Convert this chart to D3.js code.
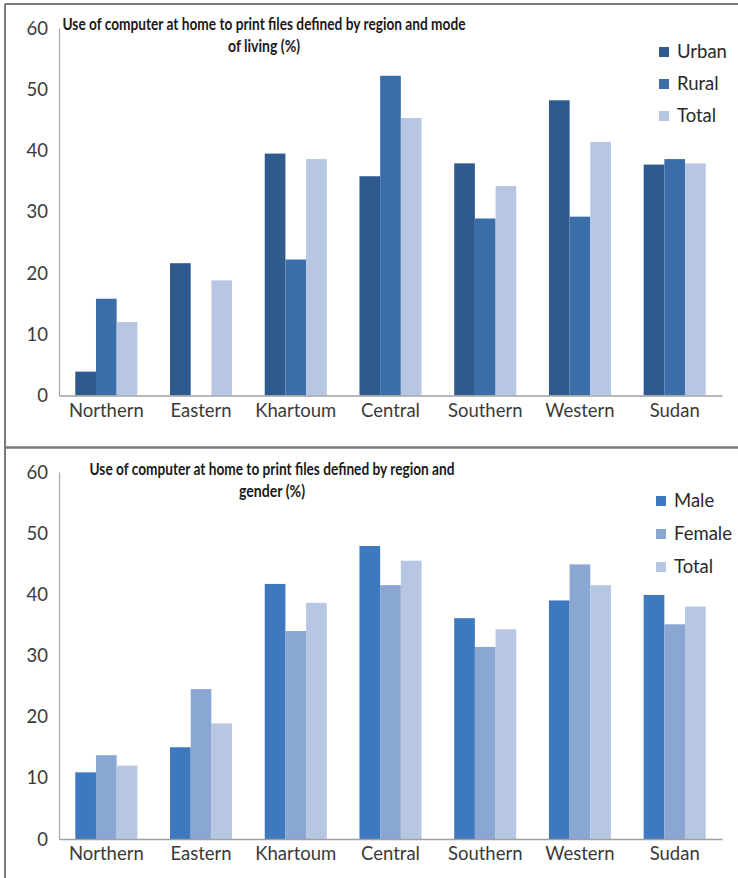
<!DOCTYPE html>
<html>
<head>
<meta charset="utf-8">
<script src="https://cdn.jsdelivr.net/npm/d3@7"></script>
<style>
  html, body { margin: 0; padding: 0; background: #fff; }
  svg { display: block; }
  .tick text { fill: #3a3a3a; }
</style>
</head>
<body>
<svg id="chart" width="738" height="878"></svg>
<script>
// Regions shown on both charts
const regions = ["Northern", "Eastern", "Khartoum", "Central", "Southern", "Western", "Sudan"];
const yTicks = [0, 10, 20, 30, 40, 50, 60];

// Chart 1: by mode of living (%)
const livingSeries = ["Urban", "Rural", "Total"];
const urban = [3.9, 21.6, 39.5, 35.8, 37.9, 48.2, 37.7];
const rural = [15.8, 0, 22.2, 52.2, 28.9, 29.2, 38.6];
const livingTotal = [12.0, 18.8, 38.6, 45.3, 34.2, 41.4, 37.9];

// Chart 2: by gender (%)
const genderSeries = ["Male", "Female", "Total"];
const male = [10.9, 15.0, 41.7, 47.9, 36.1, 39.0, 39.9];
const female = [13.7, 24.5, 34.0, 41.5, 31.4, 44.9, 35.1];
const genderTotal = [12.0, 18.9, 38.6, 45.5, 34.3, 41.5, 38.0];

const svg = d3.select("#chart");
const FONT = "Lato, 'Liberation Sans', Arial, sans-serif";

// Outer frame and divider between the two panels
const frame = svg.append("g").attr("fill", "none").attr("stroke", "#7a7a7a").attr("stroke-width", 2);
frame.append("line").attr("x1", 5).attr("x2", 738).attr("y1", 4).attr("y2", 4);
frame.append("line").attr("x1", 5).attr("x2", 5).attr("y1", 4).attr("y2", 878);
frame.append("line").attr("x1", 5).attr("x2", 738).attr("y1", 447.5).attr("y2", 447.5)
  .attr("stroke-width", 2.5);

function drawPanel(opt) {
  const g = svg.append("g");
  const x0 = d3.scaleBand().domain(regions).range([59, 722]).paddingInner(0.345).paddingOuter(0.172);
  const x1 = d3.scaleBand().domain(opt.series).range([0, x0.bandwidth()]);
  const y = d3.scaleLinear().domain([0, 60]).range([opt.zeroY, opt.topY]);

  const rows = regions.map((r, i) => ({ region: r, values: opt.values.map((v, k) => ({ key: opt.series[k], value: v[i] })) }));

  const groups = g.selectAll("g.grp").data(rows).join("g")
    .attr("class", "grp")
    .attr("transform", d => `translate(${x0(d.region)},0)`);
  groups.selectAll("rect").data(d => d.values.filter(v => v.value > 0)).join("rect")
    .attr("x", d => x1(d.key))
    .attr("width", x1.bandwidth())
    .attr("y", d => y(d.value))
    .attr("height", d => y(0) - y(d.value))
    .attr("fill", d => opt.colors[opt.series.indexOf(d.key)]);

  // y axis
  const ya = g.append("g").attr("transform", "translate(59,0)")
    .call(d3.axisLeft(y).tickValues(yTicks).tickSize(0).tickPadding(11));
  ya.select(".domain").attr("stroke", "#a6a6a6").attr("stroke-width", 1.2);
  ya.selectAll(".tick text").attr("font-family", FONT).attr("font-size", 18.5).attr("dy", "0.33em");

  // x axis
  const xa = g.append("g").attr("transform", `translate(0,${opt.zeroY})`)
    .call(d3.axisBottom(x0).tickSize(0).tickPadding(8));
  xa.select(".domain").attr("stroke", "#a0a0a0").attr("stroke-width", 1.6);
  xa.selectAll(".tick text").attr("font-family", FONT).attr("font-size", 18.5);

  // title (two lines), set in a condensed width
  opt.title.forEach((line, i) => {
    g.append("text")
      .attr("x", opt.titleX).attr("y", opt.titleY + i * 22)
      .attr("text-anchor", "middle")
      .attr("font-family", FONT).attr("font-weight", "bold")
      .attr("font-size", 17.5).attr("fill", "#1a1a1a")
      .attr("textLength", opt.titleWidths[i])
      .attr("lengthAdjust", "spacingAndGlyphs")
      .text(line);
  });

  // legend
  const lg = g.append("g");
  opt.series.forEach((s, i) => {
    const ly = opt.legendY + i * opt.legendStep;
    lg.append("rect").attr("x", opt.legendX).attr("y", ly - 5).attr("width", 10).attr("height", 10)
      .attr("fill", opt.colors[i]);
    lg.append("text").attr("x", opt.legendX + 18).attr("y", ly).attr("dy", "0.35em")
      .attr("font-family", FONT).attr("font-size", 18.5).attr("fill", "#2a2a2a").text(s);
  });
}

drawPanel({
  series: livingSeries,
  values: [urban, rural, livingTotal],
  colors: ["#2f5a8d", "#3b6ea9", "#b7c7e3"],
  zeroY: 395.5, topY: 28,
  title: ["Use of computer at home to print files defined by region and mode", "of living (%)"],
  titleX: 264, titleY: 30, titleWidths: [403, 72],
  legendX: 659, legendY: 52, legendStep: 32
});

drawPanel({
  series: genderSeries,
  values: [male, female, genderTotal],
  colors: ["#3f79bd", "#8aa6d2", "#b7c7e3"],
  zeroY: 839, topY: 472,
  title: ["Use of computer at home to print files defined by region and", "gender (%)"],
  titleX: 272, titleY: 475, titleWidths: [365, 66],
  legendX: 656, legendY: 501, legendStep: 33
});
</script>
</body>
</html>
